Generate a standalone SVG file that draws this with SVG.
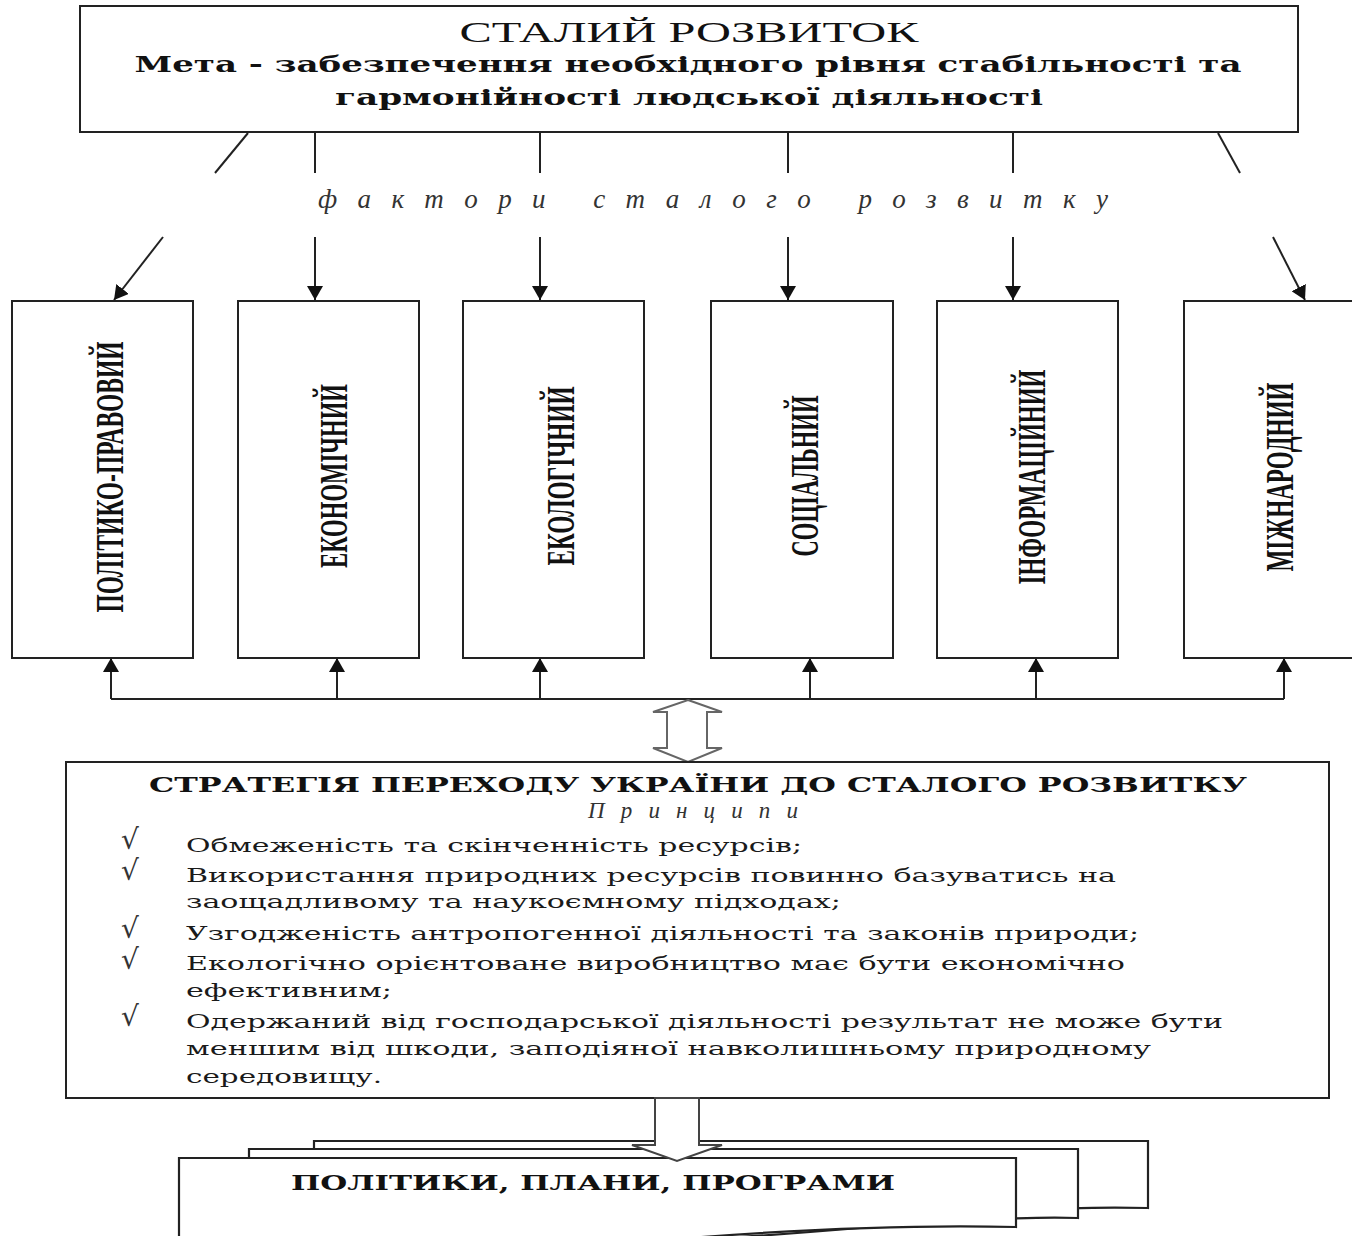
<svg xmlns="http://www.w3.org/2000/svg" width="1352" height="1236" viewBox="0 0 1352 1236">
<defs>
<style>
.box{fill:#fff;stroke:#222;stroke-width:2}
.ln{fill:none;stroke:#222;stroke-width:2}
.ttl{font-family:"Liberation Serif","Times New Roman",serif;fill:#111}
.wide{font-family:"DejaVu Serif","Liberation Serif",serif;fill:#111}
.vert{font-family:"Liberation Serif","Times New Roman",serif;font-weight:bold;font-size:39px;fill:#111;text-anchor:middle}
.body{font-family:"DejaVu Serif","Liberation Serif",serif;font-size:19px;fill:#1a1a1a}
.chk{font-family:"DejaVu Serif","Liberation Serif",serif;font-size:28px;fill:#333}
.it{font-family:"Liberation Serif","Times New Roman",serif;font-style:italic;fill:#333}
.doc{fill:#fff;stroke:#222;stroke-width:2.2}
</style>
<marker id="ah" markerUnits="userSpaceOnUse" viewBox="0 0 14 16" markerWidth="14" markerHeight="16" refX="14" refY="8" orient="auto">
<path d="M0,0 L14,8 L0,16 Z" fill="#111"/>
</marker>
</defs>
<rect width="1352" height="1236" fill="#fff"/>

<g id="top">
<rect class="box" x="80" y="6" width="1218" height="126"/>
<text class="ttl" x="689" y="42" font-size="29" text-anchor="middle" textLength="459" lengthAdjust="spacingAndGlyphs">СТАЛИЙ РОЗВИТОК</text>
<text class="wide" x="688" y="72" font-size="23" font-weight="bold" text-anchor="middle" textLength="1107" lengthAdjust="spacingAndGlyphs">Мета - забезпечення необхідного рівня стабільності та</text>
<text class="wide" x="689" y="105" font-size="23" font-weight="bold" text-anchor="middle" textLength="708" lengthAdjust="spacingAndGlyphs">гармонійності людської діяльності</text>
</g>

<g id="factors-label">
<text class="it" x="713" y="208" font-size="27" text-anchor="middle" textLength="790" lengthAdjust="spacing">фактори сталого розвитку</text>
</g>

<g id="connectors">
<line class="ln" x1="248" y1="133" x2="215" y2="173"/>
<line class="ln" x1="315" y1="133" x2="315" y2="173"/>
<line class="ln" x1="540" y1="133" x2="540" y2="173"/>
<line class="ln" x1="788" y1="133" x2="788" y2="173"/>
<line class="ln" x1="1013" y1="133" x2="1013" y2="173"/>
<line class="ln" x1="1218" y1="133" x2="1240" y2="173"/>
<line class="ln" x1="163" y1="237" x2="114" y2="300" marker-end="url(#ah)"/>
<line class="ln" x1="315" y1="237" x2="315" y2="300" marker-end="url(#ah)"/>
<line class="ln" x1="540" y1="237" x2="540" y2="300" marker-end="url(#ah)"/>
<line class="ln" x1="788" y1="237" x2="788" y2="300" marker-end="url(#ah)"/>
<line class="ln" x1="1013" y1="237" x2="1013" y2="300" marker-end="url(#ah)"/>
<line class="ln" x1="1273" y1="237" x2="1305" y2="300" marker-end="url(#ah)"/>
<polyline class="ln" points="111,699 1284,699"/>
<line class="ln" x1="111" y1="699" x2="111" y2="658" marker-end="url(#ah)"/>
<line class="ln" x1="337" y1="699" x2="337" y2="658" marker-end="url(#ah)"/>
<line class="ln" x1="540" y1="699" x2="540" y2="658" marker-end="url(#ah)"/>
<line class="ln" x1="810" y1="699" x2="810" y2="658" marker-end="url(#ah)"/>
<line class="ln" x1="1036" y1="699" x2="1036" y2="658" marker-end="url(#ah)"/>
<line class="ln" x1="1284" y1="699" x2="1284" y2="658" marker-end="url(#ah)"/>
<path d="M688,700 L722,712 L707,712 L707,748 L722,748 L688,762 L653,748 L667,748 L667,712 L653,712 Z" fill="#fff" stroke="#666" stroke-width="2"/>
</g>

<g id="f1">
<rect class="box" x="12" y="301" width="181" height="357"/>
<text class="vert" transform="translate(123,477) rotate(-90)" textLength="271" lengthAdjust="spacingAndGlyphs">ПОЛІТИКО-ПРАВОВИЙ</text>
</g>
<g id="f2">
<rect class="box" x="238" y="301" width="181" height="357"/>
<text class="vert" transform="translate(347,476) rotate(-90)" textLength="184" lengthAdjust="spacingAndGlyphs">ЕКОНОМІЧНИЙ</text>
</g>
<g id="f3">
<rect class="box" x="463" y="301" width="181" height="357"/>
<text class="vert" transform="translate(574,476) rotate(-90)" textLength="179" lengthAdjust="spacingAndGlyphs">ЕКОЛОГІЧНИЙ</text>
</g>
<g id="f4">
<rect class="box" x="711" y="301" width="182" height="357"/>
<text class="vert" transform="translate(818,476) rotate(-90)" textLength="161" lengthAdjust="spacingAndGlyphs">СОЦІАЛЬНИЙ</text>
</g>
<g id="f5">
<rect class="box" x="937" y="301" width="181" height="357"/>
<text class="vert" transform="translate(1045,477) rotate(-90)" textLength="215" lengthAdjust="spacingAndGlyphs">ІНФОРМАЦІЙНИЙ</text>
</g>
<g id="f6">
<rect class="box" x="1184" y="301" width="182" height="357"/>
<text class="vert" transform="translate(1293,477) rotate(-90)" textLength="189" lengthAdjust="spacingAndGlyphs">МІЖНАРОДНИЙ</text>
</g>

<g id="strategy">
<rect class="box" x="66" y="762" width="1263" height="336"/>
<text class="wide" x="698" y="792" font-size="20" font-weight="bold" text-anchor="middle" textLength="1098" lengthAdjust="spacingAndGlyphs">СТРАТЕГІЯ ПЕРЕХОДУ УКРАЇНИ ДО СТАЛОГО РОЗВИТКУ</text>
<text class="it" x="693" y="818" font-size="23" text-anchor="middle" textLength="210" lengthAdjust="spacing">Принципи</text>
<text class="chk" x="121" y="849">√</text>
<text class="chk" x="121" y="880">√</text>
<text class="chk" x="121" y="938">√</text>
<text class="chk" x="121" y="969">√</text>
<text class="chk" x="121" y="1026">√</text>
<text class="body" x="186" y="852" textLength="616" lengthAdjust="spacingAndGlyphs">Обмеженість та скінченність ресурсів;</text>
<text class="body" x="186" y="882" textLength="930" lengthAdjust="spacingAndGlyphs">Використання природних ресурсів повинно базуватись на</text>
<text class="body" x="186" y="908" textLength="655" lengthAdjust="spacingAndGlyphs">заощадливому та наукоємному підходах;</text>
<text class="body" x="186" y="940" textLength="953" lengthAdjust="spacingAndGlyphs">Узгодженість антропогенної діяльності та законів природи;</text>
<text class="body" x="186" y="970" textLength="939" lengthAdjust="spacingAndGlyphs">Екологічно орієнтоване виробництво має бути економічно</text>
<text class="body" x="186" y="997" textLength="206" lengthAdjust="spacingAndGlyphs">ефективним;</text>
<text class="body" x="186" y="1028" textLength="1037" lengthAdjust="spacingAndGlyphs">Одержаний від господарської діяльності результат не може бути</text>
<text class="body" x="186" y="1055" textLength="965" lengthAdjust="spacingAndGlyphs">меншим від шкоди, заподіяної навколишньому природному</text>
<text class="body" x="186" y="1083" textLength="196" lengthAdjust="spacingAndGlyphs">середовищу.</text>
</g>

<g id="documents">
<path class="doc" d="M314,1141 H1148 V1208 C1080,1206 1000,1210 900,1218 C760,1230 600,1240 500,1246 L314,1246 Z"/>
<path class="doc" d="M249,1149 H1078 V1218 C1030,1216 960,1220 860,1228 C740,1238 600,1246 500,1250 L249,1250 Z"/>
<path class="doc" d="M179,1158 H1016 V1227 C900,1224 780,1230 640,1242 L179,1248 Z"/>
<text class="wide" x="593" y="1190" font-size="20" font-weight="bold" text-anchor="middle" textLength="604" lengthAdjust="spacingAndGlyphs">ПОЛІТИКИ, ПЛАНИ, ПРОГРАМИ</text>
</g>

<g id="down-arrow">
<path d="M655,1098 L699,1098 L699,1145 L722,1145 L677,1161 L632,1145 L655,1145 Z" fill="#fff" stroke="#444" stroke-width="2"/>
</g>
</svg>
